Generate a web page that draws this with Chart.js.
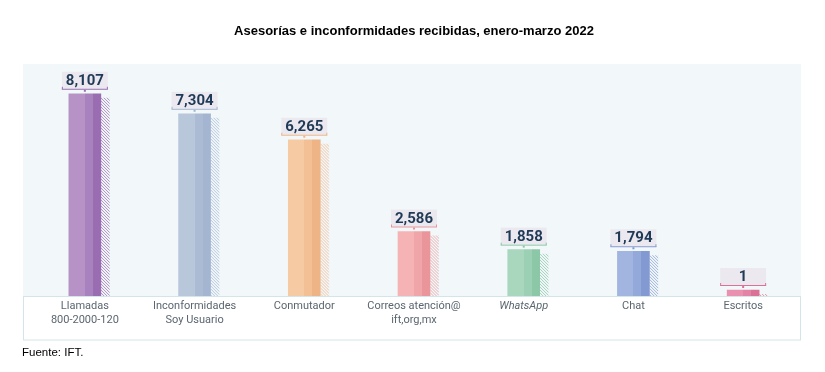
<!DOCTYPE html>
<html><head><meta charset="utf-8">
<script src="https://cdn.jsdelivr.net/npm/chart.js@4"></script>
<style>html,body{margin:0;padding:0;background:#fff}#wrap{width:825px;height:372px}</style>
</head><body><div id="wrap"><canvas id="c" width="825" height="372"></canvas></div>
<script>
const categories = [["Llamadas","800-2000-120"],["Inconformidades","Soy Usuario"],"Conmutador",["Correos atención@","ift,org,mx"],"WhatsApp","Chat","Escritos"];
const values = [8107, 7304, 6265, 2586, 1858, 1794, 1];
const valueLabels = ["8,107","7,304","6,265","2,586","1,858","1,794","1"];
const titleText = "Asesorías e inconformidades recibidas, enero-marzo 2022";
const sourceText = "Fuente: IFT.";
const barColors = [
  ["#b692c7","#a882be","#9a6db2"],
  ["#b9c7db","#abbbd3","#a3b5d0"],
  ["#f6caa3","#f3c096","#efb486"],
  ["#f5b3b5","#f0a6a9","#ea9599"],
  ["#a8d7be","#9cd0b4","#8cc7a7"],
  ["#a1b5e0","#93a9da","#8399d2"],
  ["#e991ae","#e384a5","#da7297"]
];

function stripeFill(ctx){
  const chart = ctx.chart; const i = ctx.dataIndex;
  const xs = chart.scales && chart.scales.x;
  if (!xs) return barColors[i][0];
  const x = xs.getPixelForValue(i);
  if (x === undefined || isNaN(x)) return barColors[i][0];
  const g = chart.ctx.createLinearGradient(x-16,0,x+16,0);
  const c = barColors[i];
  g.addColorStop(0,c[0]); g.addColorStop(0.5,c[0]);
  g.addColorStop(0.5,c[1]); g.addColorStop(0.75,c[1]);
  g.addColorStop(0.75,c[2]); g.addColorStop(1,c[2]);
  return g;
}

const panelPlugin = {
  id:'panels',
  beforeDraw(chart){
    const {ctx, chartArea:a} = chart;
    ctx.save();
    ctx.fillStyle = '#f2f8f9';
    ctx.fillRect(a.left-7, a.top, a.right-a.left+10, a.bottom-a.top);
    ctx.fillStyle = '#ffffff';
    ctx.fillRect(a.left-7, a.bottom, a.right-a.left+10, 44);
    ctx.strokeStyle = '#d3e5e8'; ctx.lineWidth = 1;
    ctx.strokeRect(a.left-6.5, a.bottom+0.5, a.right-a.left+9, 43.5);
    ctx.fillStyle = '#000';
    ctx.font = '11.5px "Liberation Sans", Arial, sans-serif';
    ctx.textBaseline = 'middle'; ctx.textAlign = 'left';
    ctx.fillText(sourceText, 22, 353);
    ctx.restore();
  }
};

const decoPlugin = {
  id:'deco',
  afterDatasetsDraw(chart){
    const ctx = chart.ctx;
    const meta = chart.getDatasetMeta(0);
    ctx.save();
    meta.data.forEach((el, i) => {
      const c = barColors[i];
      const x = el.x, top = el.y, base = el.base, w = el.width;
      const hx = x + w/2, hw = 9, ht = top + 4;
      if (base - ht > 0) {
        ctx.save();
        ctx.beginPath(); ctx.rect(hx, ht, hw, base-ht); ctx.clip();
        ctx.strokeStyle = c[2]; ctx.globalAlpha = 0.75; ctx.lineWidth = 1;
        for (let yy = ht - hw; yy < base + hw; yy += 3) {
          ctx.beginPath(); ctx.moveTo(hx, yy); ctx.lineTo(hx+hw, yy+hw); ctx.stroke();
        }
        ctx.restore();
      }
      const bw = 46, bh = 17, by = top - 5 - bh;
      ctx.fillStyle = '#ebe9ef';
      ctx.fillRect(x - bw/2, by, bw, bh);
      ctx.strokeStyle = c[2]; ctx.lineWidth = 1;
      ctx.beginPath();
      ctx.moveTo(x - bw/2, by + bh + 0.5); ctx.lineTo(x + bw/2, by + bh + 0.5);
      ctx.moveTo(x - bw/2 + 0.5, by + bh - 2); ctx.lineTo(x - bw/2 + 0.5, by + bh + 0.5);
      ctx.moveTo(x + bw/2 - 0.5, by + bh - 2); ctx.lineTo(x + bw/2 - 0.5, by + bh + 0.5);
      ctx.stroke();
      ctx.fillStyle = c[2];
      ctx.fillRect(x - 1, by + bh + 1, 2, 2);
      ctx.fillStyle = '#1f3a56';
      ctx.font = 'bold 15px Roboto, sans-serif';
      ctx.textAlign = 'center'; ctx.textBaseline = 'middle';
      ctx.fillText(valueLabels[i], x, by + bh/2 + 1);
    });
    ctx.restore();
  }
};

new Chart(document.getElementById('c'), {
  type: 'bar',
  data: {
    labels: categories,
    datasets: [{
      data: values,
      backgroundColor: stripeFill,
      borderWidth: 0,
      barThickness: 32,
      minBarLength: 6
    }]
  },
  options: {
    responsive: false,
    animation: false,
    devicePixelRatio: 1,
    layout: { padding: { left: 30, right: 27, top: 0, bottom: 0 } },
    plugins: {
      legend: { display: false },
      tooltip: { enabled: false },
      title: {
        display: true, text: titleText, color: '#000',
        font: { family: '"Liberation Sans", Arial, sans-serif', size: 13, weight: 'bold', lineHeight: 1.2 },
        padding: { top: 24, bottom: 24.4 }
      }
    },
    scales: {
      x: {
        grid: { display: false, drawTicks: false },
        border: { display: false },
        ticks: {
          color: '#5b6670', padding: 4, maxRotation: 0, autoSkip: false,
          font: (ctx) => ({ family: 'Roboto, sans-serif', size: 11, style: ctx.index === 4 ? 'italic' : 'normal', lineHeight: 1.2 })
        },
        afterFit(scale){ scale.height = 76; }
      },
      y: { display: false, min: 0, max: 9300 }
    }
  },
  plugins: [panelPlugin, decoPlugin]
});
</script></body></html>
